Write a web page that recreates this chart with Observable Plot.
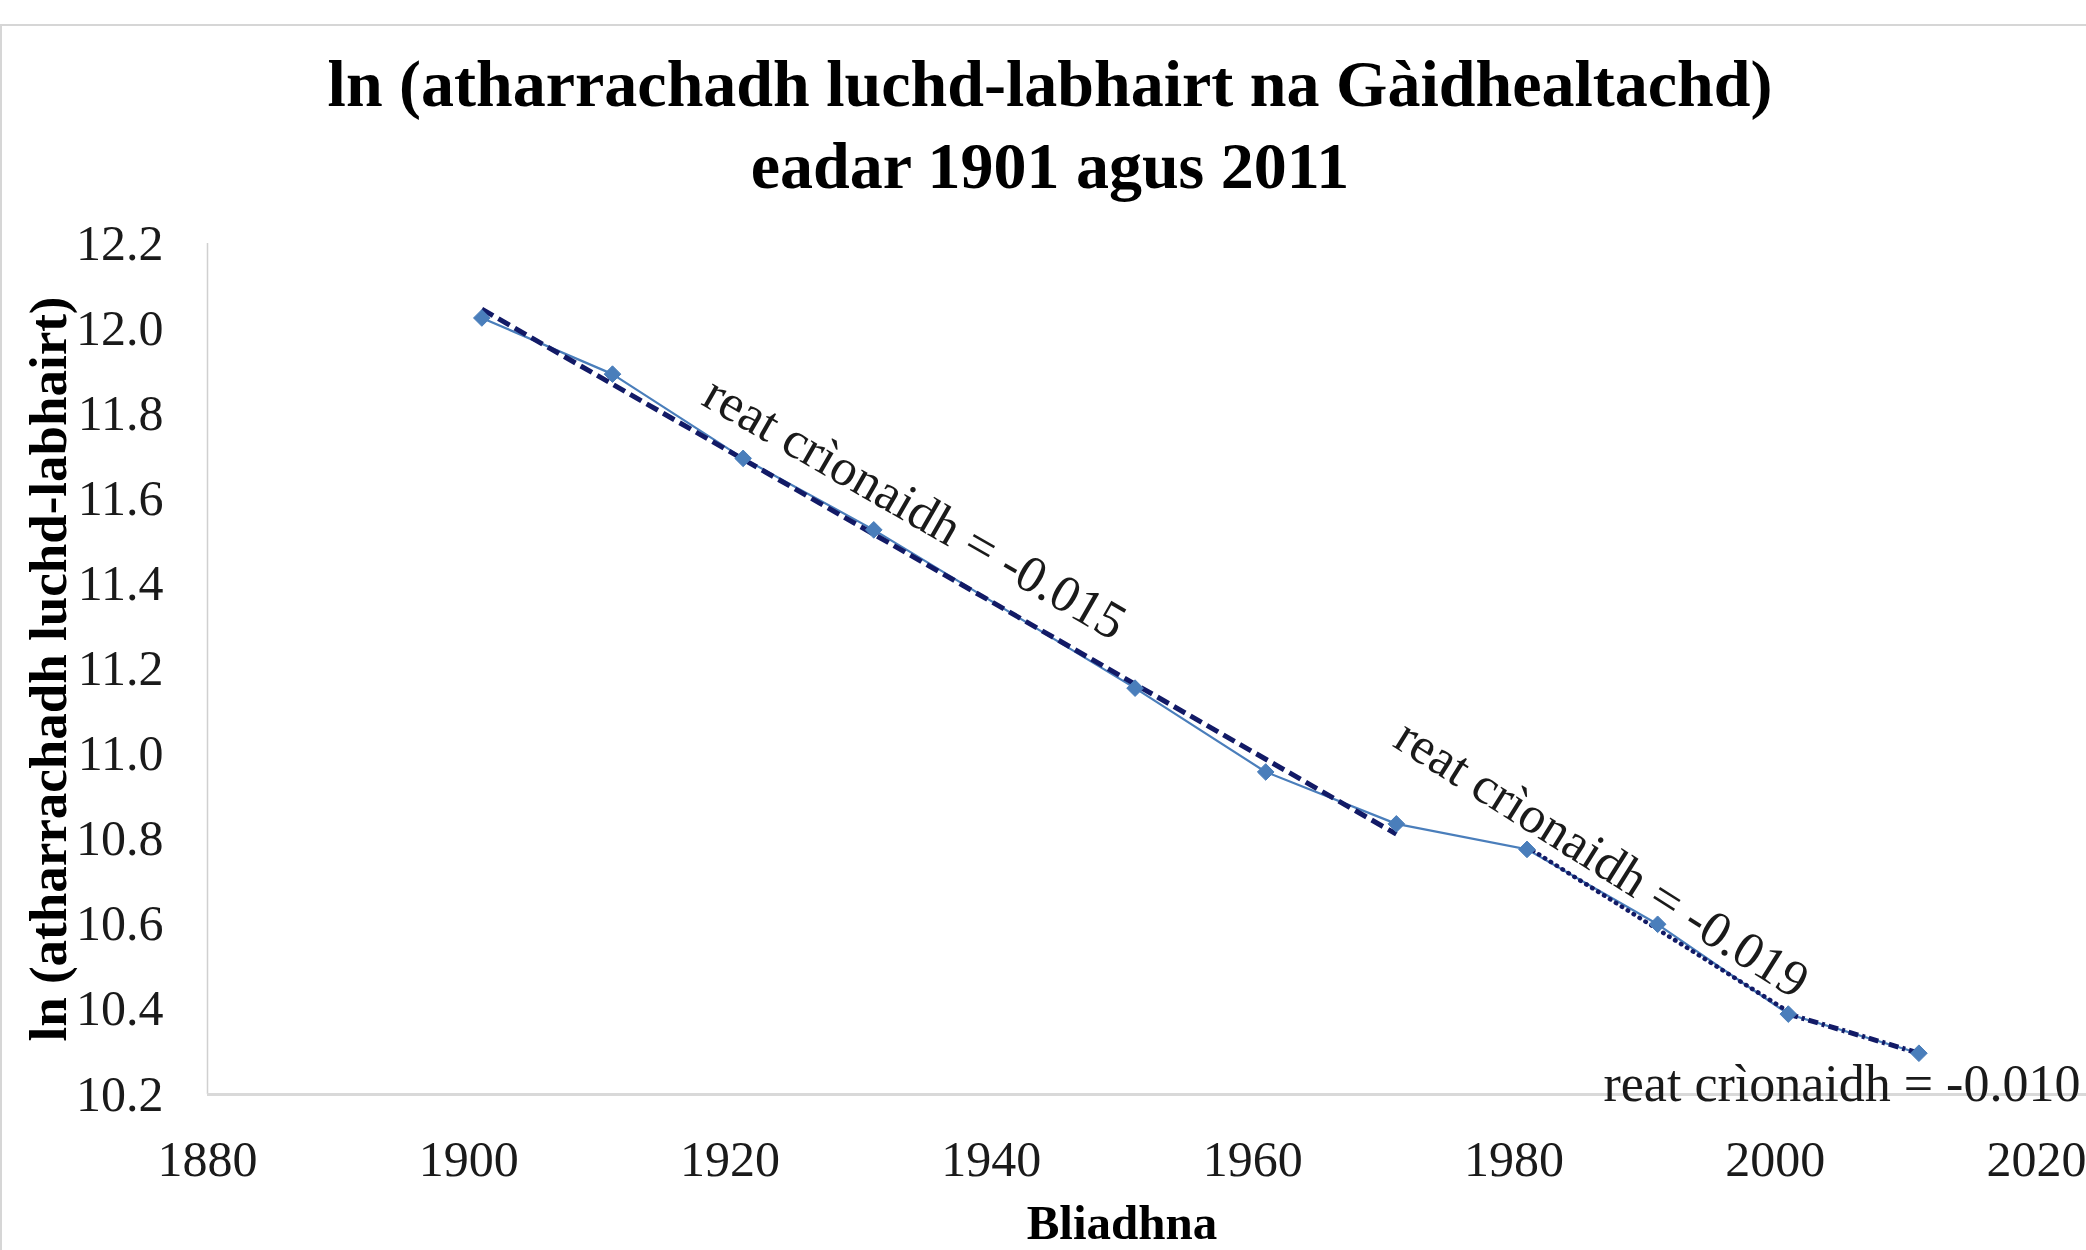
<!DOCTYPE html>
<html><head><meta charset="utf-8">
<script src="https://cdn.jsdelivr.net/npm/d3@7"></script>
<script src="https://cdn.jsdelivr.net/npm/@observablehq/plot@0.6"></script>
<style>
html,body{margin:0;padding:0;background:#fff;}
body{width:2086px;height:1250px;overflow:hidden;position:relative;font-family:"Liberation Serif","Times New Roman",serif;}
#frame{position:absolute;left:0;top:24px;width:2200px;height:1400px;border-top:2px solid #d6d6d6;border-left:2px solid #d6d6d6;box-sizing:border-box;}
#title{position:absolute;left:0;top:43px;width:2100px;text-align:center;font-weight:bold;font-size:66px;line-height:82px;color:#000;white-space:nowrap;}
#chart{position:absolute;left:0;top:200px;}
</style></head><body>
<div id="frame"></div>
<div id="title">ln (atharrachadh luchd-labhairt na Gàidhealtachd)<br>eadar 1901 agus 2011</div>
<div id="chart"></div>
<script>
// ---- data ----
const years = [1901, 1911, 1921, 1931, 1951, 1961, 1971, 1981, 1991, 2001, 2011];
const lnSpeakers = [12.025, 11.893, 11.695, 11.527, 11.155, 10.958, 10.836, 10.776, 10.600, 10.389, 10.297];
const trendPeriods = [[1901, 1971], [1981, 2001], [2001, 2011]];
const trendLabels = ["reat crìonaidh = -0.015", "reat crìonaidh = -0.019", "reat crìonaidh = -0.010"];
const xTicks = [1880, 1900, 1920, 1940, 1960, 1980, 2000, 2020];
const yTicks = [10.2, 10.4, 10.6, 10.8, 11.0, 11.2, 11.4, 11.6, 11.8, 12.0, 12.2];
const xTitle = "Bliadhna";
const yTitle = "ln (atharrachadh luchd-labhairt)";

// ---- layout ----
const W = 2086, H = 1050, mL = 207, mR = 50, mT = 43, mB = 156;
const font = "'Liberation Serif','Times New Roman',serif";
const navy = "#121a66", blue = "#4a7ebb";

const data = years.map((year, i) => ({year, value: lnSpeakers[i]}));
const xPx = (W - mL - mR) / (xTicks[xTicks.length - 1] - xTicks[0]);
const yPx = (H - mT - mB) / (yTicks[yTicks.length - 1] - yTicks[0]);

function fit([a, b]) {
  const pts = data.filter(d => d.year >= a && d.year <= b);
  const mx = d3.mean(pts, d => d.year), my = d3.mean(pts, d => d.value);
  const s = d3.sum(pts, d => (d.year - mx) * (d.value - my)) / d3.sum(pts, d => (d.year - mx) ** 2);
  return {pts, slope: s, at: x => my + s * (x - mx)};
}
const fits = trendPeriods.map(fit);

const trendStyles = [
  {strokeWidth: 5, strokeDasharray: "13 6", strokeLinecap: "butt"},
  {strokeWidth: 4.5, strokeDasharray: "0.5 6.5", strokeLinecap: "round"},
  {strokeWidth: 5, strokeDasharray: "10 4 3 4", strokeLinecap: "butt"}
];

// label placement: position along the fitted line + perpendicular offset
const labelPlace = [
  {year: 1932.5, off: 43, rotated: true},
  {year: 1985.5, off: 30, rotated: true},
  {year: 2011, dx: -77, dy: 31, rotated: false}
];

const labelMarks = labelPlace.map((p, i) => {
  const f = fits[i];
  const pt = {x: p.year, y: f.at(p.year), t: trendLabels[i]};
  if (p.rotated) {
    const th = Math.atan(-f.slope * yPx / xPx);
    return Plot.text([pt], {x: "x", y: "y", text: "t", rotate: th * 180 / Math.PI,
      dx: p.off * Math.sin(th), dy: -p.off * Math.cos(th),
      fontSize: 52, fill: "#1a1a1a", fontFamily: font});
  }
  return Plot.text([pt], {x: "x", y: "y", text: "t", dx: p.dx, dy: p.dy,
    fontSize: 52, fill: "#1a1a1a", fontFamily: font});
});

const chart = Plot.plot({
  width: W, height: H,
  marginLeft: mL, marginRight: mR, marginTop: mT, marginBottom: mB,
  style: {fontFamily: font, background: "transparent", color: "#1a1a1a", overflow: "visible"},
  x: {domain: [xTicks[0], xTicks[xTicks.length - 1]]},
  y: {domain: [yTicks[0], yTicks[yTicks.length - 1]]},
  marks: [
    Plot.ruleX([xTicks[0]], {y1: yTicks[0], y2: yTicks[yTicks.length - 1], stroke: "#d0d0d0", strokeWidth: 1.5}),
    Plot.ruleY([yTicks[0]], {x1: xTicks[0], x2: xTicks[xTicks.length - 1] + 4, stroke: "#d9d9d9", strokeWidth: 3}),
    Plot.axisX({ticks: xTicks, tickSize: 0, tickPadding: 46, tickFormat: d => String(d), fontSize: 50, label: null, fill: "#1a1a1a"}),
    Plot.axisY({ticks: yTicks, tickSize: 0, tickPadding: 44, tickFormat: d => d.toFixed(1), fontSize: 50, label: null, fill: "#1a1a1a"}),
    Plot.line(data, {x: "year", y: "value", stroke: blue, strokeWidth: 2.2}),
    ...fits.map((f, i) => Plot.linearRegressionY(f.pts, {x: "year", y: "value", stroke: navy, ci: 0, ...trendStyles[i]})),
    Plot.dot(data, {x: "year", y: "value", symbol: "diamond2", r: 7.5, fill: blue, stroke: blue, strokeWidth: 1}),
    ...labelMarks,
    Plot.text([yTitle], {text: d => d, frameAnchor: "left", textAnchor: "middle", lineAnchor: "middle", rotate: -90, dx: -158, fontSize: 53, fontWeight: "bold", fill: "#000", fontFamily: font}),
    Plot.text([xTitle], {text: d => d, frameAnchor: "bottom", textAnchor: "middle", dy: 144, fontSize: 49, fontWeight: "bold", fill: "#000", fontFamily: font})
  ]
});
document.getElementById("chart").appendChild(chart);
</script>
</body></html>
